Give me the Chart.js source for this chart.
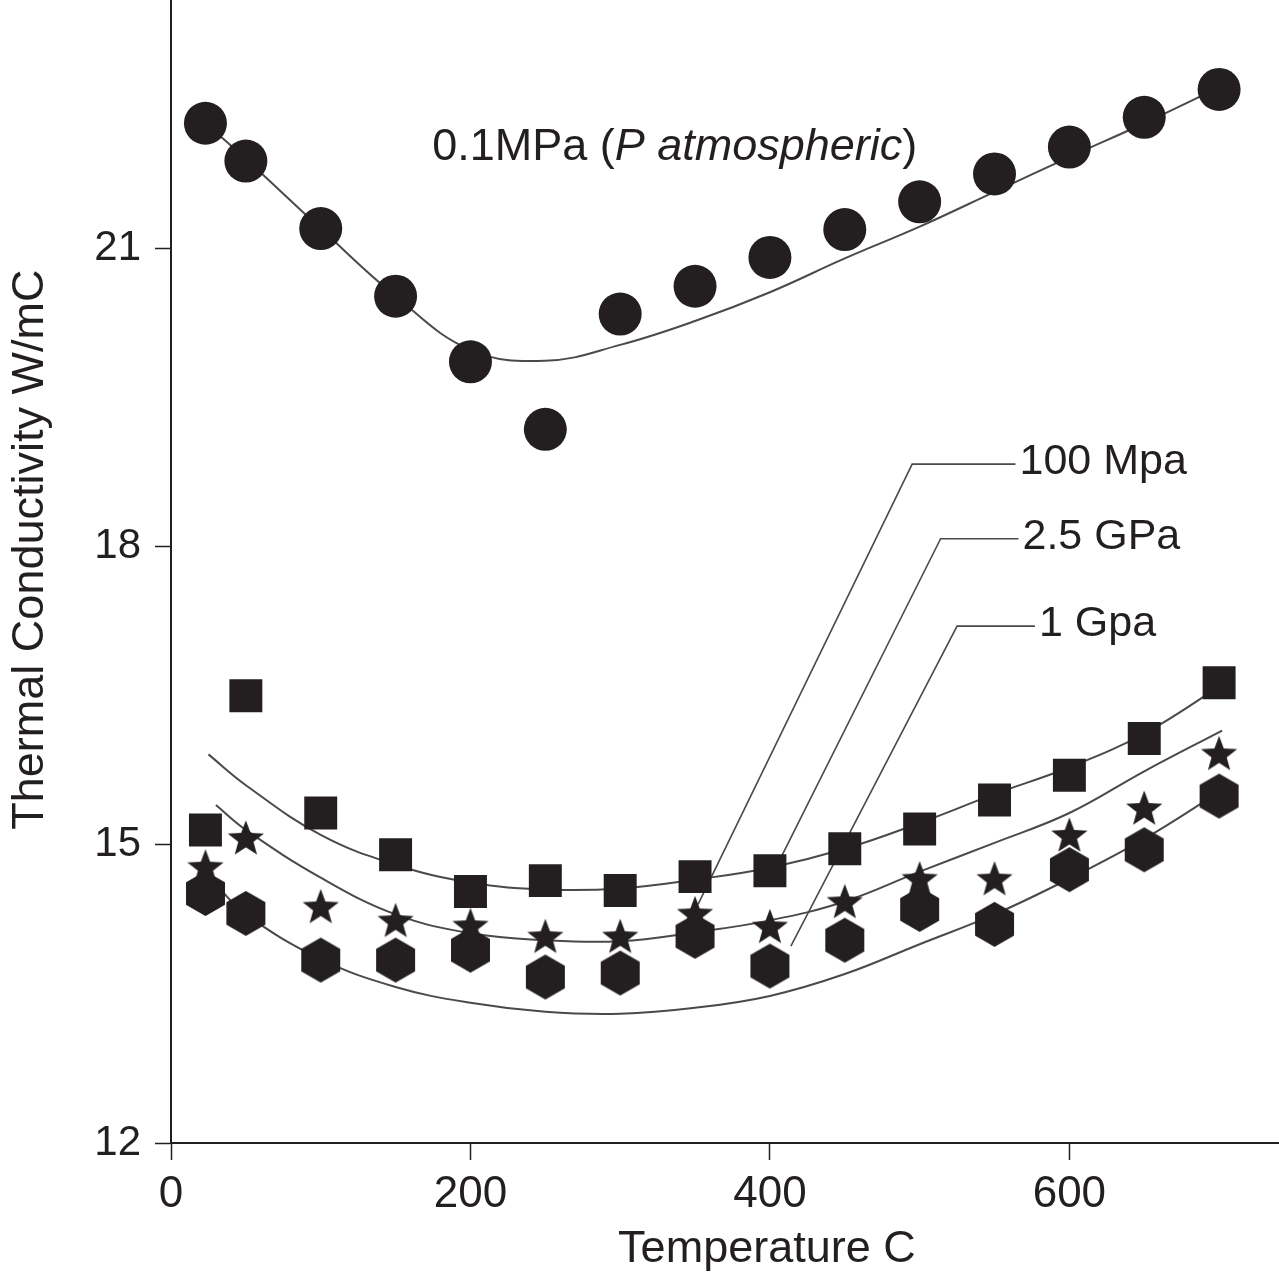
<!DOCTYPE html>
<html>
<head>
<meta charset="utf-8">
<script src="https://cdn.jsdelivr.net/npm/chart.js@4.4.0/dist/chart.umd.min.js"></script>
<style>
  html, body { margin: 0; padding: 0; background: #fff; }
  #wrap { width: 1279px; height: 1288px; }
</style>
</head>
<body>
<div id="wrap"><canvas id="chart" width="1279" height="1288"></canvas></div>
<script>
// measured points (temperature C, conductivity W/mC)
const temps = [23, 50, 100, 150, 200, 250, 300, 350, 400, 450, 500, 550, 600, 650, 700];
const k01MPa = [22.26, 21.88, 21.20, 20.52, 19.86, 19.18, 20.34, 20.62, 20.91, 21.19, 21.47, 21.75, 22.02, 22.32, 22.60];
const k100MPa = [15.15, 16.50, 15.32, 14.90, 14.53, 14.64, 14.54, 14.68, 14.74, 14.96, 15.16, 15.45, 15.70, 16.07, 16.63];
const k25GPa = [14.78, 15.07, 14.38, 14.24, 14.19, 14.08, 14.08, 14.31, 14.18, 14.43, 14.66, 14.66, 15.10, 15.37, 15.92];
const k1GPa = [14.51, 14.31, 13.84, 13.84, 13.94, 13.67, 13.71, 14.08, 13.78, 14.04, 14.35, 14.20, 14.75, 14.95, 15.49];

// fitted curves
const fitT01 = [23, 50, 100, 150, 200, 250, 300, 350, 400, 450, 500, 550, 600, 650, 700];
const fit01 = [22.26, 21.90, 21.20, 20.52, 19.98, 19.87, 20.03, 20.27, 20.56, 20.90, 21.22, 21.57, 21.92, 22.26, 22.62];
const fitT100 = [25, 50, 100, 150, 200, 250, 300, 350, 400, 450, 500, 550, 600, 650, 703];
const fit100 = [15.91, 15.60, 15.10, 14.80, 14.62, 14.55, 14.56, 14.65, 14.77, 14.96, 15.22, 15.51, 15.78, 16.12, 16.62];
const fitT25 = [30, 50, 100, 150, 200, 250, 300, 350, 400, 450, 500, 550, 600, 650, 702];
const fit25 = [15.40, 15.15, 14.67, 14.30, 14.11, 14.04, 14.03, 14.12, 14.24, 14.43, 14.73, 15.02, 15.32, 15.74, 16.15];
const fitT1 = [30, 50, 100, 150, 200, 250, 300, 350, 400, 450, 500, 550, 600, 650, 702];
const fit1 = [14.60, 14.30, 13.85, 13.57, 13.41, 13.32, 13.30, 13.36, 13.48, 13.70, 14.00, 14.30, 14.66, 15.06, 15.55];

// label leader lines: tip on the data, corner, end of the horizontal bit
const leader100T = [352, 495, 564];
const leader100K = [14.40, 18.83, 18.83];
const leader25T = [405, 514, 566];
const leader25K = [14.80, 18.08, 18.08];
const leader1T = [414, 525, 577];
const leader1K = [13.98, 17.20, 17.20];
const leaderLabels = ['100 Mpa', '2.5 GPa', '1 Gpa'];

const xTickValues = [0, 200, 400, 600];
const yTickValues = [12, 15, 18, 21];

const INK = '#231f20';
const LINE = '#4a4a4a';
const FONT = "'Liberation Sans', Arial, Helvetica, sans-serif";

function pts(xs, ys) {
  return xs.map((x, i) => ({ x: x, y: ys[i] }));
}

function makeHexagon(R) {
  const w = Math.ceil(Math.sqrt(3) * R) + 2, h = Math.ceil(2 * R) + 2;
  const c = document.createElement('canvas');
  c.width = w; c.height = h;
  const g = c.getContext('2d');
  g.fillStyle = INK;
  g.beginPath();
  for (let i = 0; i < 6; i++) {
    const a = -Math.PI / 2 + i * Math.PI / 3;
    const px = w / 2 + R * Math.cos(a), py = h / 2 + R * Math.sin(a);
    if (i === 0) g.moveTo(px, py); else g.lineTo(px, py);
  }
  g.closePath();
  g.fill();
  return c;
}

function makeStar(R, r) {
  const s = Math.ceil(2 * R) + 2;
  const c = document.createElement('canvas');
  c.width = s; c.height = s;
  const g = c.getContext('2d');
  g.fillStyle = INK;
  g.beginPath();
  for (let i = 0; i < 10; i++) {
    const a = -Math.PI / 2 + i * Math.PI / 5;
    const rr = i % 2 === 0 ? R : r;
    const px = s / 2 + rr * Math.cos(a), py = s / 2 + 1.5 + rr * Math.sin(a);
    if (i === 0) g.moveTo(px, py); else g.lineTo(px, py);
  }
  g.closePath();
  g.fill();
  return c;
}

const hexImg = makeHexagon(22.5);
const starImg = makeStar(19, 8);

function marks(data, style, radius) {
  return {
    data: data, showLine: false, pointStyle: style, pointRadius: radius,
    pointBackgroundColor: INK, pointBorderColor: INK, pointBorderWidth: 0
  };
}

function curve(data) {
  return {
    data: data, showLine: true, pointRadius: 0, borderColor: LINE, borderWidth: 2,
    tension: 0.4, fill: false
  };
}

function leader(data) {
  return { data: data, showLine: true, pointRadius: 0, borderColor: LINE, borderWidth: 1.6, tension: 0 };
}

// no automatic label padding: the plot runs to the canvas edges
function noPad(s) {
  s.paddingTop = 0; s.paddingBottom = 0; s.paddingLeft = 0; s.paddingRight = 0;
}

// text that sits inside the plot and the two axis titles
const annotations = {
  id: 'annotations',
  afterDraw(chart) {
    const { ctx, scales: { x, y }, chartArea } = chart;
    ctx.save();
    ctx.fillStyle = INK;
    ctx.textBaseline = 'middle';
    ctx.textAlign = 'left';

    // series name for the top curve
    let px = x.getPixelForValue(174.4), py = y.getPixelForValue(22.02);
    const parts = [['0.1MPa (', ''], ['P atmospheric', 'italic '], [')', '']];
    parts.forEach(([txt, style]) => {
      ctx.font = style + '45px ' + FONT;
      ctx.fillText(txt, px, py);
      px += ctx.measureText(txt).width;
    });

    // leader labels
    ctx.font = '43px ' + FONT;
    [[leader100T, leader100K], [leader25T, leader25K], [leader1T, leader1K]].forEach(([ts, ks], i) => {
      ctx.fillText(leaderLabels[i], x.getPixelForValue(ts[2]) + 4, y.getPixelForValue(ks[2]) - 2);
    });

    // axis titles
    ctx.font = '45px ' + FONT;
    ctx.textAlign = 'center';
    ctx.fillText('Temperature C', x.getPixelForValue(398), chartArea.bottom + 107);
    ctx.translate(chartArea.left - 140, y.getPixelForValue(17.97));
    ctx.rotate(-Math.PI / 2);
    ctx.fillText('Thermal Conductivity W/mC', 0, 0);
    ctx.restore();
  }
};

new Chart(document.getElementById('chart'), {
  type: 'scatter',
  data: {
    datasets: [
      marks(pts(temps, k25GPa), starImg, 19),
      marks(pts(temps, k1GPa), hexImg, 22),
      marks(pts(temps, k100MPa), 'rect', 23.3),
      marks(pts(temps, k01MPa), 'circle', 21.5),
      curve(pts(fitT01, fit01)),
      curve(pts(fitT100, fit100)),
      curve(pts(fitT25, fit25)),
      curve(pts(fitT1, fit1)),
      leader(pts(leader100T, leader100K)),
      leader(pts(leader25T, leader25K)),
      leader(pts(leader1T, leader1K))
    ]
  },
  options: {
    responsive: false,
    animation: false,
    layout: { padding: 0, autoPadding: false },
    plugins: { legend: { display: false }, tooltip: { enabled: false } },
    elements: { point: { hitRadius: 0 } },
    scales: {
      x: {
        type: 'linear', position: 'bottom', min: 0, max: 740,
        afterBuildTicks: s => { s.ticks = xTickValues.map(v => ({ value: v })); },
        afterFit: s => { s.height = 145; noPad(s); },
        grid: { drawOnChartArea: false, drawTicks: true, tickLength: 17, tickColor: INK, tickWidth: 1.5 },
        border: { display: true, color: INK, width: 2 },
        ticks: { font: { family: FONT, size: 44 }, color: INK, padding: 8, maxRotation: 0, autoSkip: false }
      },
      y: {
        type: 'linear', position: 'left', min: 12, max: 23.5,
        afterBuildTicks: s => { s.ticks = yTickValues.map(v => ({ value: v })); },
        afterFit: s => { s.width = 171; noPad(s); },
        grid: { drawOnChartArea: false, drawTicks: true, tickLength: 16, tickColor: INK, tickWidth: 1.5 },
        border: { display: true, color: INK, width: 2 },
        ticks: { font: { family: FONT, size: 42 }, color: INK, padding: 14, autoSkip: false }
      }
    }
  },
  plugins: [annotations]
});
</script>
</body>
</html>
